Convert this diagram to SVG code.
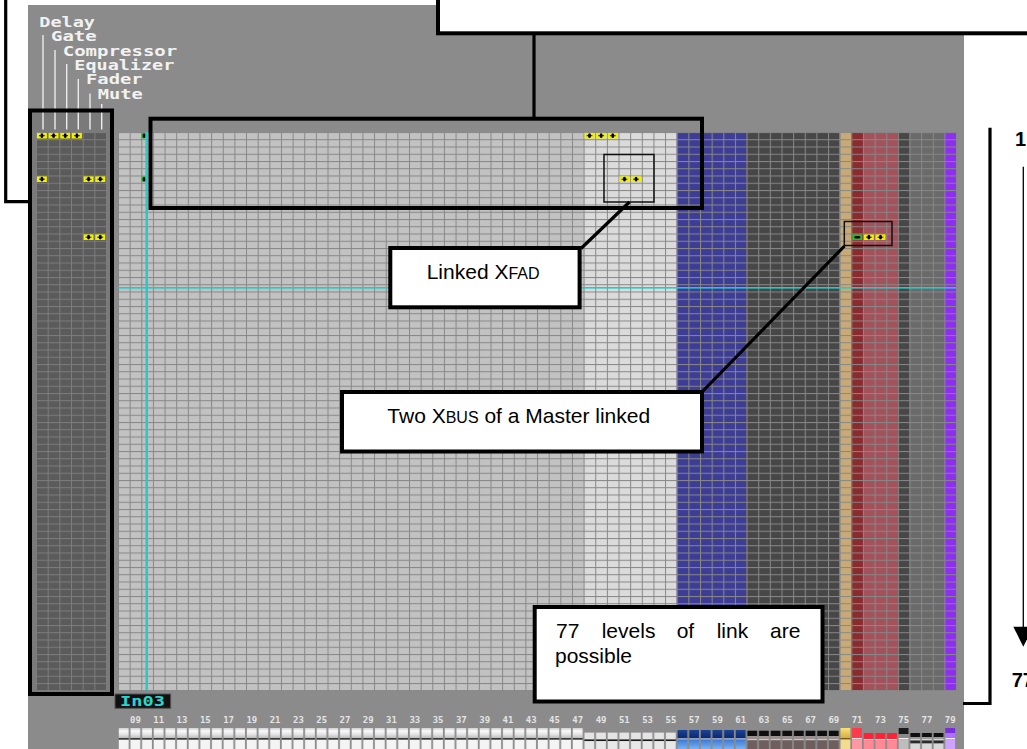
<svg xmlns="http://www.w3.org/2000/svg" width="1027" height="749" viewBox="0 0 1027 749">
<style>
 .box{fill:#fff;stroke:#000;stroke-width:4}
 .frame{fill:none;stroke:#000;stroke-width:4}
 .thin{fill:none;stroke:#111;stroke-width:1.5}
 .conn{stroke:#000;stroke-width:3.2;fill:none}
 .lbl{font-family:"Liberation Sans",Arial,sans-serif;font-size:21px;fill:#000}
 .sc{font-size:16px}
 .pix{font-family:"DejaVu Sans Mono","Liberation Mono",monospace;font-weight:bold;font-size:14px;fill:#f2f2f2}
 .num{font-family:"DejaVu Sans Mono","Liberation Mono",monospace;font-weight:bold;font-size:9px;fill:#e4e4e4;text-anchor:middle}
 .big{font-family:"Liberation Sans",Arial,sans-serif;font-weight:bold;font-size:20px;fill:#000}
 .wl{stroke:#ececec;stroke-width:1.4}
</style>
<defs>
 <pattern id="gm" patternUnits="userSpaceOnUse" x="118" y="132" width="11.64" height="7.25">
  <rect width="11.64" height="1" fill="#878787"/>
  <rect width="1" height="7.25" fill="#878787"/>
 </pattern>
 <pattern id="gp" patternUnits="userSpaceOnUse" x="36" y="132" width="11.667" height="7.25">
  <rect width="11.667" height="1" fill="#7c7c7c"/>
  <rect width="1" height="7.25" fill="#7c7c7c"/>
 </pattern>
 <linearGradient id="gw" x1="0" y1="0" x2="0" y2="1">
  <stop offset="0" stop-color="#cfcfcf"/><stop offset="0.3" stop-color="#fafafa"/><stop offset="0.65" stop-color="#e2e2e2"/><stop offset="1" stop-color="#bcbcbc"/>
 </linearGradient>
 <linearGradient id="gb1" x1="0" y1="0" x2="0" y2="1">
  <stop offset="0" stop-color="#1c4394"/><stop offset="1" stop-color="#0a276c"/>
 </linearGradient>
 <linearGradient id="gb2" x1="0" y1="0" x2="0" y2="1">
  <stop offset="0" stop-color="#3a78d6"/><stop offset="1" stop-color="#7cb2f0"/>
 </linearGradient>
 <linearGradient id="gy" x1="0" y1="0" x2="0" y2="1">
  <stop offset="0" stop-color="#f8e27a"/><stop offset="1" stop-color="#d6ae3e"/>
 </linearGradient>
 <pattern id="bw" patternUnits="userSpaceOnUse" x="118" y="728" width="11.64" height="21">
  <rect x="0.8" y="0" width="9.8" height="10" fill="url(#gw)"/>
  <rect x="0.8" y="10" width="9.8" height="1.8" fill="#3a3a3a"/>
  <rect x="0.8" y="11.8" width="9.8" height="9.2" fill="#f4f4f4"/>
 </pattern>
 <pattern id="bl" patternUnits="userSpaceOnUse" x="118" y="728" width="11.64" height="21">
  <rect x="0.8" y="4.6" width="9.8" height="6.6" fill="#e4e4e4"/>
  <rect x="0.8" y="11.6" width="9.8" height="1.5" fill="#1a1a1a"/>
  <rect x="0.8" y="13.1" width="9.8" height="7.9" fill="#e8e8e8"/>
 </pattern>
 <pattern id="bb" patternUnits="userSpaceOnUse" x="118" y="728" width="11.64" height="21">
  <rect x="0.8" y="2" width="9.8" height="8.5" fill="url(#gb1)"/>
  <rect x="0.8" y="10.5" width="9.8" height="1" fill="#d8e8ff"/>
  <rect x="0.8" y="11.5" width="9.8" height="9.5" fill="url(#gb2)"/>
 </pattern>
 <pattern id="bk" patternUnits="userSpaceOnUse" x="118" y="728" width="11.64" height="21">
  <rect x="0.8" y="2.7" width="9.8" height="5.3" fill="#0e0e0e"/>
  <rect x="0.8" y="8" width="9.8" height="3.3" fill="#9a9090"/>
  <rect x="0.8" y="11.3" width="9.8" height="1" fill="#e4e0e0"/>
  <rect x="0.8" y="12.3" width="9.8" height="8.7" fill="#6e5e5e"/>
 </pattern>
 <pattern id="bk2" patternUnits="userSpaceOnUse" x="118" y="728" width="11.64" height="21">
  <rect x="0.8" y="5" width="9.8" height="4" fill="#0e0e0e"/>
  <rect x="0.8" y="9" width="9.8" height="2.3" fill="#9a9a9a"/>
  <rect x="0.8" y="11.3" width="9.8" height="1.2" fill="#f0f0f0"/>
  <rect x="0.8" y="12.5" width="9.8" height="3" fill="#2a2a2a"/>
  <rect x="0.8" y="15.5" width="9.8" height="5.5" fill="#d8d8d8"/>
 </pattern>
 <pattern id="br" patternUnits="userSpaceOnUse" x="118" y="728" width="11.64" height="21">
  <rect x="0.8" y="5" width="9.8" height="6" fill="#ff2232"/>
  <rect x="0.8" y="11" width="9.8" height="1.2" fill="#ffe0e0"/>
  <rect x="0.8" y="12.2" width="9.8" height="8.8" fill="#ff8a96"/>
 </pattern>
 <g id="my"><rect x="0.9" y="0.9" width="10" height="5.6" fill="#f2f000"/><path d="M3 3.7H8.8" stroke="#000" stroke-width="0.9"/><ellipse cx="5.9" cy="3.7" rx="1.5" ry="2.4" fill="#000"/></g>
 <g id="mg"><rect x="0.9" y="0.9" width="10" height="5.6" fill="#24c024"/><rect x="3" y="2.4" width="6" height="2.6" rx="1.2" fill="#000"/></g>
</defs>

<rect width="1027" height="749" fill="#fff"/>

<g id="screen">
 <rect x="28" y="5" width="936" height="744" fill="#8b8b8b"/>
 <!-- left panel -->
 <rect x="30" y="110.5" width="82" height="583.5" fill="#7a7a7a"/>
 <rect x="36" y="132" width="71" height="558.25" fill="#5b5b5b"/>
 <rect x="36" y="132" width="71" height="559" fill="url(#gp)"/>
 <!-- main grid columns -->
 <rect x="118" y="132" width="465.6" height="558.25" fill="#c2c2c2"/>
 <rect x="583.6" y="132" width="93.12" height="558.25" fill="#dbdbdb"/>
 <rect x="676.72" y="132" width="69.84" height="558.25" fill="#3d3d95"/>
 <rect x="746.56" y="132" width="93.12" height="558.25" fill="#474747"/>
 <rect x="839.68" y="132" width="11.64" height="558.25" fill="#c8aa78"/>
 <rect x="851.32" y="132" width="11.64" height="558.25" fill="#8a2b30"/>
 <rect x="862.96" y="132" width="34.92" height="558.25" fill="#a3525c"/>
 <rect x="897.88" y="132" width="11.64" height="558.25" fill="#474747"/>
 <rect x="909.52" y="132" width="34.92" height="558.25" fill="#6a6a6a"/>
 <rect x="944.44" y="132" width="11.64" height="558.25" fill="#8d2ff0"/>
 <rect x="118" y="132" width="839" height="559" fill="url(#gm)"/>
 <!-- markers -->
 <use href="#my" x="36" y="132"/><use href="#my" x="47.667" y="132"/><use href="#my" x="59.333" y="132"/><use href="#my" x="71" y="132"/>
 <use href="#my" x="36" y="175.5"/><use href="#my" x="82.667" y="175.5"/><use href="#my" x="94.333" y="175.5"/>
 <use href="#my" x="82.667" y="233.5"/><use href="#my" x="94.333" y="233.5"/>
 <use href="#my" x="583.6" y="132"/><use href="#my" x="595.24" y="132"/><use href="#my" x="606.88" y="132"/>
 <use href="#my" x="618.52" y="175.5"/><use href="#my" x="630.16" y="175.5"/>
 <use href="#mg" x="851.32" y="233.5"/><use href="#my" x="862.96" y="233.5"/><use href="#my" x="874.6" y="233.5"/>
 <rect x="141.4" y="132.9" width="5.4" height="5.6" fill="#24c024"/><ellipse cx="144" cy="135.7" rx="1.4" ry="2.2" fill="#000"/>
 <rect x="141.4" y="176.4" width="5.4" height="5.6" fill="#24c024"/><ellipse cx="144" cy="179.2" rx="1.4" ry="2.2" fill="#000"/>
 <!-- cursor lines -->
 <rect x="145.5" y="131.5" width="2.5" height="559" fill="#22caca"/>
 <rect x="118" y="287" width="838" height="1.6" fill="#22caca"/>
 <!-- channel name -->
 <rect x="115" y="694" width="55.7" height="14.3" fill="#111" stroke="#555" stroke-width="1"/>
 <text x="120" y="706" class="pix" style="fill:#2ad4d4" textLength="45" lengthAdjust="spacingAndGlyphs">In03</text>
 <!-- column numbers -->
 <g class="num">
  <text x="135.46" y="723">09</text><text x="158.74" y="723">11</text><text x="182.02" y="723">13</text><text x="205.3" y="723">15</text>
  <text x="228.58" y="723">17</text><text x="251.86" y="723">19</text><text x="275.14" y="723">21</text><text x="298.42" y="723">23</text>
  <text x="321.7" y="723">25</text><text x="344.98" y="723">27</text><text x="368.26" y="723">29</text><text x="391.54" y="723">31</text>
  <text x="414.82" y="723">33</text><text x="438.1" y="723">35</text><text x="461.38" y="723">37</text><text x="484.66" y="723">39</text>
  <text x="507.94" y="723">41</text><text x="531.22" y="723">43</text><text x="554.5" y="723">45</text><text x="577.78" y="723">47</text>
  <text x="601.06" y="723">49</text><text x="624.34" y="723">51</text><text x="647.62" y="723">53</text><text x="670.9" y="723">55</text>
  <text x="694.18" y="723">57</text><text x="717.46" y="723">59</text><text x="740.74" y="723">61</text><text x="764.02" y="723">63</text>
  <text x="787.3" y="723">65</text><text x="810.58" y="723">67</text><text x="833.86" y="723">69</text><text x="857.14" y="723">71</text>
  <text x="880.42" y="723">73</text><text x="903.7" y="723">75</text><text x="926.98" y="723">77</text><text x="950.26" y="723">79</text>
 </g>
 <!-- fader buttons -->
 <rect x="118" y="728" width="465.6" height="21" fill="url(#bw)"/>
 <rect x="583.6" y="728" width="93.12" height="21" fill="url(#bl)"/>
 <rect x="676.72" y="728" width="69.84" height="21" fill="url(#bb)"/>
 <rect x="746.56" y="728" width="93.12" height="21" fill="url(#bk)"/>
 <rect x="840.5" y="728" width="9.8" height="10" fill="url(#gy)"/>
 <rect x="840.5" y="738" width="9.8" height="1.5" fill="#7a5a20"/>
 <rect x="840.5" y="739.5" width="9.8" height="9.5" fill="#f2dc8e"/>
 <rect x="852.1" y="728" width="9.8" height="10" fill="#ff3a4a"/>
 <rect x="852.1" y="738" width="9.8" height="1.2" fill="#ffe4e4"/>
 <rect x="852.1" y="739.2" width="9.8" height="9.8" fill="#ff98a2"/>
 <rect x="862.96" y="728" width="34.92" height="21" fill="url(#br)"/>
 <rect x="898.7" y="728" width="9.8" height="6" fill="#1a1a1a"/>
 <rect x="898.7" y="734" width="9.8" height="4" fill="#8a8a8a"/>
 <rect x="898.7" y="738" width="9.8" height="1.2" fill="#f0f0f0"/>
 <rect x="898.7" y="739.2" width="9.8" height="9.8" fill="#bdbdbd"/>
 <rect x="909.52" y="728" width="34.92" height="21" fill="url(#bk2)"/>
 <rect x="945.3" y="728" width="9.8" height="5" fill="#7a2ee0"/>
 <rect x="945.3" y="733" width="9.8" height="5" fill="#b070ff"/>
 <rect x="945.3" y="738" width="9.8" height="1.2" fill="#f4e8ff"/>
 <rect x="945.3" y="739.2" width="9.8" height="9.8" fill="#cfa2ff"/>
</g>

<g id="node-section-labels">
 <line class="wl" x1="43" y1="35" x2="43" y2="129.5"/>
 <line class="wl" x1="55" y1="50" x2="55" y2="129.5"/>
 <line class="wl" x1="66.7" y1="64" x2="66.7" y2="129.5"/>
 <line class="wl" x1="78.3" y1="79" x2="78.3" y2="129.5"/>
 <line class="wl" x1="90" y1="93.5" x2="90" y2="129.5"/>
 <line class="wl" x1="101.7" y1="104" x2="101.7" y2="129.5"/>
 <text class="pix" x="39.3" y="26.7" textLength="55.7" lengthAdjust="spacingAndGlyphs">Delay</text>
 <text class="pix" x="51" y="40.7" textLength="45.7" lengthAdjust="spacingAndGlyphs">Gate</text>
 <text class="pix" x="62.7" y="55.7" textLength="114.6" lengthAdjust="spacingAndGlyphs">Compressor</text>
 <text class="pix" x="74.3" y="70" textLength="100" lengthAdjust="spacingAndGlyphs">Equalizer</text>
 <text class="pix" x="86" y="84.3" textLength="56.7" lengthAdjust="spacingAndGlyphs">Fader</text>
 <text class="pix" x="97.7" y="99" textLength="45" lengthAdjust="spacingAndGlyphs">Mute</text>
</g>

<g id="node-left-panel-frame">
 <rect class="frame" x="30" y="110.5" width="82" height="583.5" stroke-width="4.5"/>
</g>
<g id="node-top-box">
 <rect class="box" x="438" y="-10" width="620" height="43.3" stroke-width="3.6"/>
</g>
<g id="node-link-row-frame">
 <rect class="frame" x="150.5" y="118.7" width="551.5" height="89.3"/>
</g>
<g id="node-xfad-mark">
 <rect class="thin" x="604" y="154.5" width="50" height="47.5"/>
</g>
<g id="node-xbus-mark">
 <rect class="thin" x="844.3" y="221.5" width="47.7" height="24"/>
</g>

<g id="connectors">
 <path class="conn" d="M5.7 0V201.7H30" stroke-width="3.4"/>
 <path class="conn" d="M534 34V117"/>
 <path class="conn" d="M629.5 202L581 248.5"/>
 <path class="conn" d="M844.5 246L703 391"/>
 <path class="conn" d="M990 127.7V703.5H963" stroke-width="3.6"/>
 <path d="M1023.3 166.7V628" stroke="#000" stroke-width="1.3"/>
 <polygon points="1013.3,626.7 1033.3,626.7 1023.3,646.7" fill="#000"/>
</g>

<g id="node-linked-xfad">
 <rect class="box" x="390.3" y="248" width="189.3" height="59.3"/>
 <text class="lbl" x="426.7" y="279">Linked X<tspan class="sc">FAD</tspan></text>
</g>
<g id="node-two-xbus">
 <rect class="box" x="342" y="392" width="360" height="59.5"/>
 <text class="lbl" x="387.3" y="422.7">Two X<tspan class="sc">BUS</tspan> of a Master linked</text>
</g>
<g id="node-77-levels">
 <rect class="box" x="534.7" y="607" width="287.8" height="94.5"/>
 <text class="lbl"><tspan x="556" y="638.3">77</tspan><tspan x="601.7" y="638.3">levels</tspan><tspan x="676.7" y="638.3">of</tspan><tspan x="716.7" y="638.3">link</tspan><tspan x="770" y="638.3">are</tspan><tspan x="555" y="663.3">possible</tspan></text>
</g>
<g id="node-scale">
 <text class="big" x="1015" y="145.5">1</text>
 <text class="big" x="1011.7" y="686.7">77</text>
</g>
</svg>
